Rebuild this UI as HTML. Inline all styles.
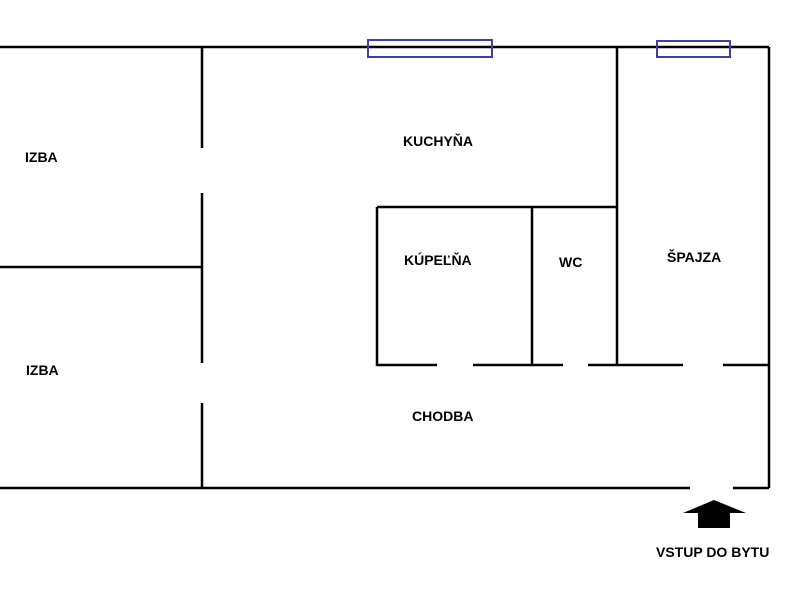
<!DOCTYPE html>
<html><head><style>body{margin:0;background:#fff}</style></head><body>
<svg width="800" height="600" xmlns="http://www.w3.org/2000/svg" style="display:block">
<g stroke="#000" stroke-width="2.5" fill="none">
<line x1="0" y1="47" x2="769" y2="47"/>
<line x1="769" y1="47" x2="769" y2="488"/>
<line x1="0" y1="488" x2="690" y2="488"/>
<line x1="733" y1="488" x2="769" y2="488"/>
<line x1="202" y1="47" x2="202" y2="148"/>
<line x1="202" y1="193" x2="202" y2="363"/>
<line x1="202" y1="403" x2="202" y2="488"/>
<line x1="0" y1="267" x2="202" y2="267"/>
<line x1="617" y1="47" x2="617" y2="366"/>
<line x1="377" y1="207" x2="617" y2="207"/>
<line x1="377" y1="207" x2="377" y2="366"/>
<line x1="532" y1="207" x2="532" y2="366"/>
<line x1="377" y1="365" x2="437" y2="365"/>
<line x1="473" y1="365" x2="563" y2="365"/>
<line x1="588" y1="365" x2="683" y2="365"/>
<line x1="723" y1="365" x2="769" y2="365"/>
</g>
<g stroke="#3f3fa8" stroke-width="2" fill="none">
<rect x="368" y="40" width="124" height="17"/>
<rect x="657" y="41" width="73" height="16"/>
</g>
<polygon points="714,500 746,513 730,513 730,528 698,528 698,513 683,513" fill="#000"/>
<g font-family="Liberation Sans, sans-serif" font-weight="bold" font-size="14" fill="#000">
<text x="25" y="162">IZBA</text>
<text x="26" y="375">IZBA</text>
<text x="403" y="146">KUCHYŇA</text>
<text x="404" y="265">KÚPEĽŇA</text>
<text x="559" y="267">WC</text>
<text x="667" y="262">ŠPAJZA</text>
<text x="412" y="421">CHODBA</text>
<text x="656" y="557">VSTUP DO BYTU</text>
</g>
</svg>
</body></html>
